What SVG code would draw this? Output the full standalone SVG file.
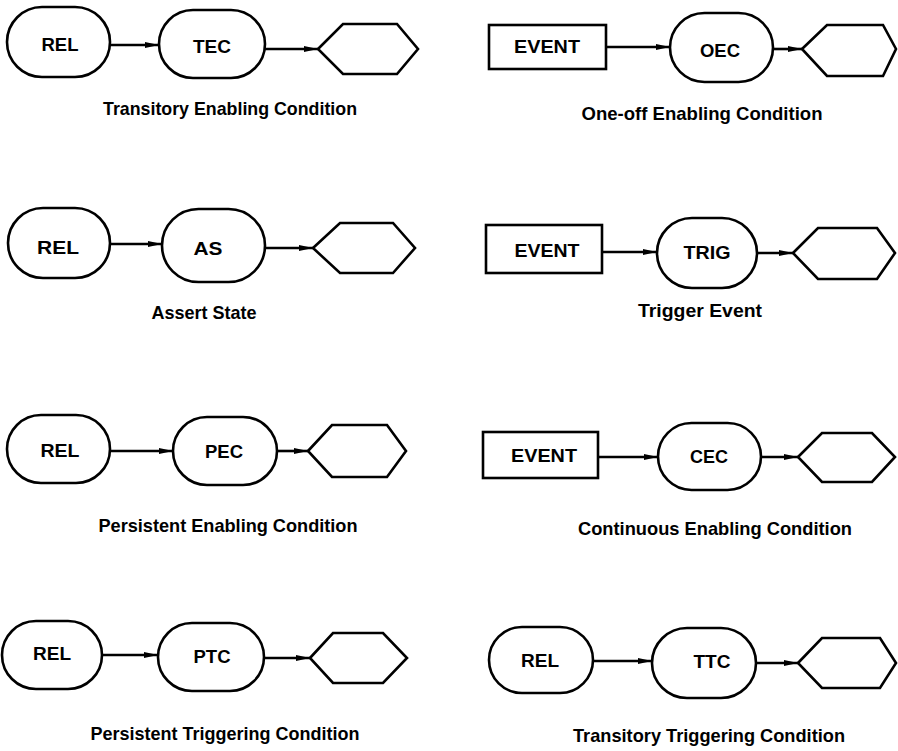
<svg xmlns="http://www.w3.org/2000/svg" width="898" height="751" viewBox="0 0 898 751">
<defs>
<style>
.s{fill:#fff;stroke:#000;stroke-width:2.6}
.c line{stroke:#000;stroke-width:2.6}
.t{font-family:"Liberation Sans",Arial,sans-serif;font-weight:bold;font-size:18.5px;text-anchor:middle;fill:#000}
.cap{font-family:"Liberation Sans",Arial,sans-serif;font-weight:bold;font-size:19px;text-anchor:middle;fill:#000}
</style>
<marker id="ah" viewBox="0 0 14 7" refX="14" refY="3.5" markerWidth="14" markerHeight="7" markerUnits="userSpaceOnUse" orient="auto">
<path d="M0,0.5 L14,3.5 L0,6.5 z" fill="#000"/>
</marker>
</defs>
<rect width="898" height="751" fill="#fff"/>

<g class="c" id="connectors">
<line x1="110" y1="45" x2="159" y2="45" marker-end="url(#ah)"/>
<line x1="265" y1="49" x2="318" y2="49" marker-end="url(#ah)"/>
<line x1="606" y1="47" x2="670" y2="47" marker-end="url(#ah)"/>
<line x1="773" y1="49" x2="802" y2="49" marker-end="url(#ah)"/>
<line x1="110" y1="244" x2="162" y2="244" marker-end="url(#ah)"/>
<line x1="265" y1="248" x2="313" y2="248" marker-end="url(#ah)"/>
<line x1="602" y1="252" x2="657" y2="252" marker-end="url(#ah)"/>
<line x1="757" y1="253" x2="793" y2="253" marker-end="url(#ah)"/>
<line x1="110" y1="451" x2="173" y2="451" marker-end="url(#ah)"/>
<line x1="277" y1="451" x2="308" y2="451" marker-end="url(#ah)"/>
<line x1="598" y1="457" x2="658" y2="457" marker-end="url(#ah)"/>
<line x1="761" y1="457" x2="798" y2="457" marker-end="url(#ah)"/>
<line x1="102" y1="655" x2="158" y2="655" marker-end="url(#ah)"/>
<line x1="264" y1="658" x2="310" y2="658" marker-end="url(#ah)"/>
<line x1="593" y1="661" x2="652" y2="661" marker-end="url(#ah)"/>
<line x1="756" y1="663" x2="798" y2="663" marker-end="url(#ah)"/>
</g>

<!-- Row 1 left -->
<g id="rel1"><rect class="s" x="7" y="7" width="103" height="70" rx="35"/><text class="t" x="60" y="51" textLength="37" lengthAdjust="spacingAndGlyphs">REL</text></g>
<g id="tec"><rect class="s" x="159" y="10" width="106" height="68" rx="34"/><text class="t" x="212" y="53" textLength="38" lengthAdjust="spacingAndGlyphs">TEC</text></g>
<g id="hex1"><polygon class="s" points="318,49 343,24 397,24 418,49 397,74 343,74"/></g>
<g id="cap1"><text class="cap" x="230" y="115" textLength="254" lengthAdjust="spacingAndGlyphs">Transitory Enabling Condition</text></g>

<!-- Row 1 right -->
<g id="event1"><rect class="s" x="489" y="25" width="117" height="44"/><text class="t" x="547" y="53" textLength="66" lengthAdjust="spacingAndGlyphs">EVENT</text></g>
<g id="oec"><rect class="s" x="670" y="13" width="103" height="69" rx="34.5"/><text class="t" x="720" y="57" textLength="40" lengthAdjust="spacingAndGlyphs">OEC</text></g>
<g id="hex2"><polygon class="s" points="802,49 827,25 883,25 896,49 883,76 827,76"/></g>
<g id="cap2"><text class="cap" x="702" y="120" textLength="241" lengthAdjust="spacingAndGlyphs">One-off Enabling Condition</text></g>

<!-- Row 2 left -->
<g id="rel2"><rect class="s" x="8" y="208" width="102" height="70" rx="35"/><text class="t" x="58" y="254" textLength="42" lengthAdjust="spacingAndGlyphs">REL</text></g>
<g id="as"><rect class="s" x="162" y="209" width="103" height="73" rx="36.5"/><text class="t" x="208" y="255" textLength="29" lengthAdjust="spacingAndGlyphs">AS</text></g>
<g id="hex3"><polygon class="s" points="313,248 340,223 393,223 415,248 393,273 340,273"/></g>
<g id="cap3"><text class="cap" x="204" y="319" textLength="105" lengthAdjust="spacingAndGlyphs">Assert State</text></g>

<!-- Row 2 right -->
<g id="event2"><rect class="s" x="486" y="225" width="116" height="48"/><text class="t" x="547" y="257" textLength="65" lengthAdjust="spacingAndGlyphs">EVENT</text></g>
<g id="trig"><rect class="s" x="657" y="218" width="100" height="70" rx="35"/><text class="t" x="707" y="259" textLength="47" lengthAdjust="spacingAndGlyphs">TRIG</text></g>
<g id="hex4"><polygon class="s" points="793,253 818,228 877,228 895,253 877,279 818,279"/></g>
<g id="cap4"><text class="cap" x="700" y="317" textLength="124" lengthAdjust="spacingAndGlyphs">Trigger Event</text></g>

<!-- Row 3 left -->
<g id="rel3"><rect class="s" x="7" y="415" width="103" height="68" rx="34"/><text class="t" x="60" y="457" textLength="39" lengthAdjust="spacingAndGlyphs">REL</text></g>
<g id="pec"><rect class="s" x="173" y="417" width="104" height="68" rx="34"/><text class="t" x="224" y="458" textLength="38" lengthAdjust="spacingAndGlyphs">PEC</text></g>
<g id="hex5"><polygon class="s" points="308,451 332,425 387,425 406,451 387,477 332,477"/></g>
<g id="cap5"><text class="cap" x="228" y="532" textLength="259" lengthAdjust="spacingAndGlyphs">Persistent Enabling Condition</text></g>

<!-- Row 3 right -->
<g id="event3"><rect class="s" x="483" y="432" width="115" height="46"/><text class="t" x="544" y="462" textLength="66" lengthAdjust="spacingAndGlyphs">EVENT</text></g>
<g id="cec"><rect class="s" x="658" y="423" width="103" height="67" rx="33.5"/><text class="t" x="709" y="463" textLength="38" lengthAdjust="spacingAndGlyphs">CEC</text></g>
<g id="hex6"><polygon class="s" points="798,457 822,433 872,433 895,457 872,482 822,482"/></g>
<g id="cap6"><text class="cap" x="715" y="535" textLength="274" lengthAdjust="spacingAndGlyphs">Continuous Enabling Condition</text></g>

<!-- Row 4 left -->
<g id="rel4"><rect class="s" x="2" y="621" width="100" height="68" rx="34"/><text class="t" x="52" y="660" textLength="38" lengthAdjust="spacingAndGlyphs">REL</text></g>
<g id="ptc"><rect class="s" x="158" y="623" width="106" height="68" rx="34"/><text class="t" x="212" y="663" textLength="37" lengthAdjust="spacingAndGlyphs">PTC</text></g>
<g id="hex7"><polygon class="s" points="310,658 333,633 383,633 407,658 383,683 333,683"/></g>
<g id="cap7"><text class="cap" x="225" y="740" textLength="269" lengthAdjust="spacingAndGlyphs">Persistent Triggering Condition</text></g>

<!-- Row 4 right -->
<g id="rel5"><rect class="s" x="489" y="627" width="104" height="66" rx="33"/><text class="t" x="540" y="667" textLength="38" lengthAdjust="spacingAndGlyphs">REL</text></g>
<g id="ttc"><rect class="s" x="652" y="628" width="104" height="70" rx="35"/><text class="t" x="712" y="668" textLength="37" lengthAdjust="spacingAndGlyphs">TTC</text></g>
<g id="hex8"><polygon class="s" points="798,663 822,638 880,638 896,663 880,688 822,688"/></g>
<g id="cap8"><text class="cap" x="709" y="742" textLength="272" lengthAdjust="spacingAndGlyphs">Transitory Triggering Condition</text></g>
</svg>
